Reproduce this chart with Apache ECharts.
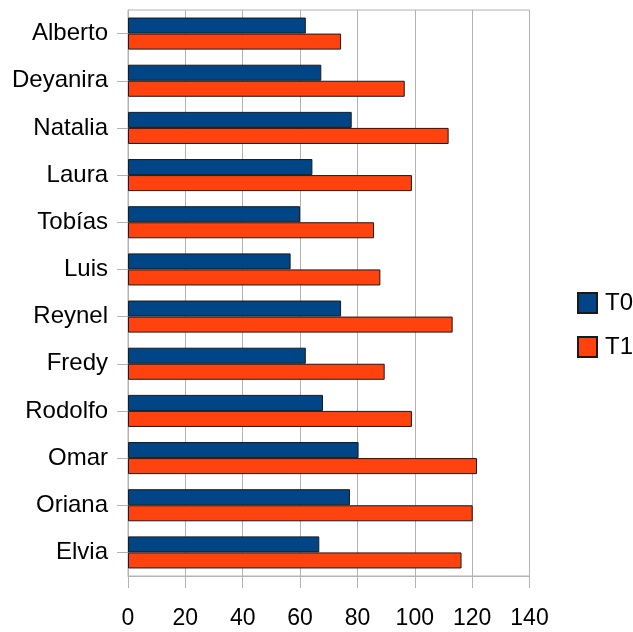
<!DOCTYPE html>
<html>
<head>
<meta charset="utf-8">
<script src="https://cdn.jsdelivr.net/npm/echarts@6/dist/echarts.min.js"></script>
<style>
  html, body { margin: 0; padding: 0; background: #fff; }
  #chart { width: 633px; height: 632px; }
</style>
</head>
<body>
<div id="chart"></div>
<script>
// Participants, listed top to bottom
const names = ['Alberto', 'Deyanira', 'Natalia', 'Laura', 'Tobías', 'Luis', 'Reynel', 'Fredy', 'Rodolfo', 'Omar', 'Oriana', 'Elvia'];
// Scores at each time point
const t0 = [62, 67.4, 78, 64.3, 60, 56.7, 74.3, 62, 68, 80.4, 77.4, 66.7];
const t1 = [74.3, 96.5, 111.8, 99, 85.8, 88, 113.2, 89.5, 99, 121.7, 120.2, 116.3];
const xTicks = { min: 0, max: 140, interval: 20 };

const gridGray = '#b3b3b3';
const font = '"Liberation Sans", Arial, sans-serif';

const chart = echarts.init(document.getElementById('chart'), null, { renderer: 'canvas' });
chart.setOption({
  animation: false,
  backgroundColor: '#ffffff',
  grid: {
    left: 128, top: 10, right: 103.5, bottom: 56,
    show: true, borderColor: gridGray, borderWidth: 1,
    containLabel: false, outerBoundsMode: 'none'
  },
  legend: {
    orient: 'vertical',
    left: 577, top: 291,
    icon: 'rect',
    itemWidth: 19, itemHeight: 20, itemGap: 20, padding: 0,
    textStyle: { fontFamily: font, fontSize: 24, color: '#000', padding: [0, 0, 0, 3] },
    data: ['T0', 'T1']
  },
  xAxis: {
    type: 'value',
    min: xTicks.min, max: xTicks.max, interval: xTicks.interval,
    axisLine: { show: true, lineStyle: { color: gridGray } },
    axisTick: { show: true, length: 12, lineStyle: { color: gridGray } },
    splitLine: { show: true, lineStyle: { color: gridGray } },
    axisLabel: { fontFamily: font, fontSize: 23, color: '#000', margin: 31 }
  },
  yAxis: {
    type: 'category',
    inverse: true,
    data: names,
    axisLine: { show: true, lineStyle: { color: gridGray } },
    axisTick: { show: true, alignWithLabel: true, length: 11, lineStyle: { color: gridGray } },
    splitLine: { show: false },
    axisLabel: { fontFamily: font, fontSize: 24, color: '#000', margin: 20, padding: [3, 0, 0, 0] }
  },
  series: [
    {
      name: 'T0', type: 'bar', data: t0,
      barGap: '0%', barCategoryGap: '32%',
      itemStyle: { color: '#004586', borderColor: '#1a1a1a', borderWidth: 1 }
    },
    {
      name: 'T1', type: 'bar', data: t1,
      barGap: '0%', barCategoryGap: '32%',
      itemStyle: { color: '#ff420e', borderColor: '#1a1a1a', borderWidth: 1 }
    }
  ]
});
</script>
</body>
</html>
